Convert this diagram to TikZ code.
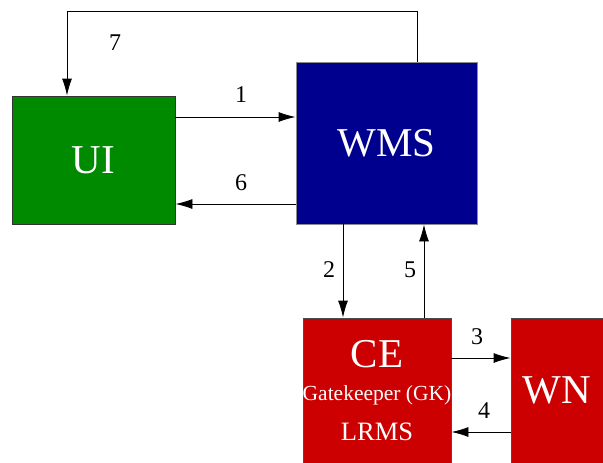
\documentclass[tikz,border=0pt]{standalone}
\usepackage{fontspec}
\setmainfont{Liberation Serif}
\usetikzlibrary{arrows.meta}
\tikzset{>={Latex[length=17pt,width=10pt]}}
\definecolor{uigreen}{HTML}{008A00}
\definecolor{wmsblue}{HTML}{00008E}
\definecolor{cered}{HTML}{CC0000}

\begin{document}
\begin{tikzpicture}[x=1pt,y=-1pt,line width=0.9pt,
    box/.style={draw=black!65,text=white,inner sep=0pt},
    num/.style={font=\fontsize{24}{24}\selectfont},
    boxtext/.style={text=white,anchor=base}]
            \useasboundingbox (0,0) rectangle (603,463);
            % boxes
            \node[box,fill=uigreen,draw=black!80,minimum width=163pt,minimum height=128pt,font=\fontsize{41}{41}\selectfont] (ui) at (93.5,160) {UI};
            \node[box,fill=wmsblue,draw=black!45,minimum width=181pt,minimum height=162pt,font=\fontsize{41}{41}\selectfont] (wms) at (386.5,143) {WMS};
            \node[box,fill=cered,draw=black!70,minimum width=148pt,minimum height=145pt] (ce) at (377,390.5) {};
            \node[box,fill=cered,draw=black!70,minimum width=92pt,minimum height=145pt,font=\fontsize{41}{41}\selectfont] (wn) at (557,390.5) {WN};
            \node[boxtext,font=\fontsize{41}{41}\selectfont] (cetitle) at (377,367) {CE};
            \node[boxtext,font=\fontsize{21.5}{21.5}\selectfont] (gk) at (377,400) {Gatekeeper (GK)};
            \node[boxtext,font=\fontsize{26.5}{26.5}\selectfont] (lrms) at (377,440) {LRMS};
            % arrows
            \draw[->] ([yshift=43pt]ui.east) -- ([yshift=43pt]ui.east -| wms.west);
            \draw[->] ([yshift=-44pt]ui.east -| wms.west) -- ([yshift=-44pt]ui.east);
            \draw[->] ([xshift=30.5pt]wms.north) -- ++(0,-50) -| ([xshift=-26.5pt]ui.north);
            \draw[->] ([xshift=-43.5pt]wms.south) -- ([xshift=-43.5pt]wms.south |- ce.north);
            \draw[->] ([xshift=37.5pt]wms.south |- ce.north) -- ([xshift=37.5pt]wms.south);
            \draw[->] ([yshift=32.5pt]ce.east) -- ([yshift=32.5pt]ce.east -| wn.west);
            \draw[->] ([yshift=-41.5pt]ce.east -| wn.west) -- ([yshift=-41.5pt]ce.east);
            % numbers
            \node[num] (n1) at (241,95) {1};
            \node[num] (n2) at (329,270) {2};
            \node[num] (n3) at (477,337) {3};
            \node[num] (n4) at (484,411) {4};
            \node[num] (n5) at (410,270) {5};
            \node[num] (n6) at (241,183) {6};
            \node[num] (n7) at (115,43) {7};
        \end{tikzpicture}
\end{document}
